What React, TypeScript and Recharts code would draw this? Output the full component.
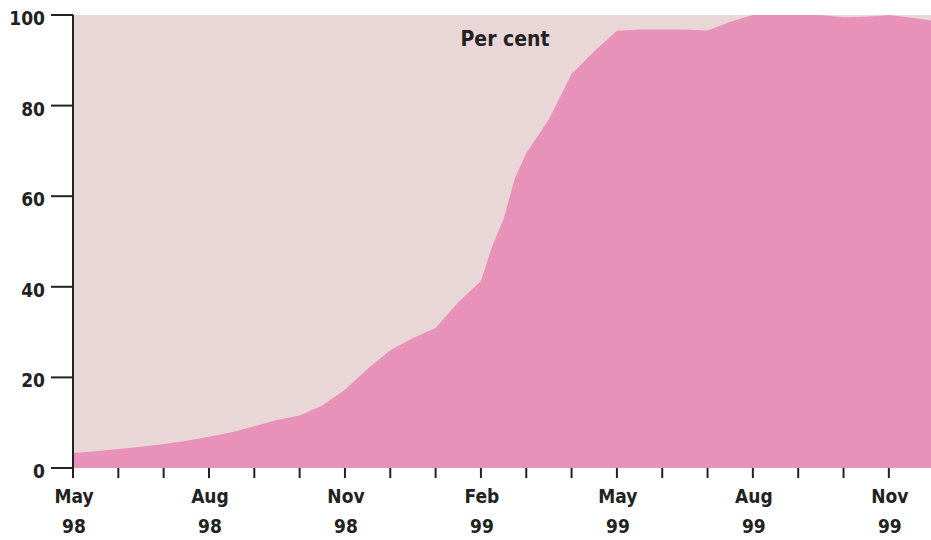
import { AreaChart, Area, XAxis, YAxis, ReferenceArea } from "recharts";

// months since May 1998
const MONTHS = [
  0, 0.5, 1, 1.5, 2, 2.5, 3, 3.5, 4, 4.5, 5, 5.5, 6, 6.5, 7, 7.5, 8, 8.5, 9, 9.25, 9.5, 9.75, 10,
  10.5, 11, 11.5, 12, 12.5, 13, 13.5, 14, 14.5, 15, 15.5, 16, 16.5, 17, 17.5, 18, 18.5, 18.93,
];
const SHARE = [
  3.3, 3.7, 4.2, 4.7, 5.3, 6.0, 6.9, 7.9, 9.2, 10.6, 11.6, 13.8, 17.3, 21.9, 26, 28.7, 30.9, 36.6,
  41.3, 49, 55, 64, 69.5, 77, 87, 92, 96.5, 96.8, 96.8, 96.8, 96.6, 98.5, 100, 100, 100, 100, 99.5,
  99.6, 100, 99.4, 98.8,
];
const X_TICKS = [0, 1, 2, 3, 4, 5, 6, 7, 8, 9, 10, 11, 12, 13, 14, 15, 16, 17, 18];
const X_LABELS: Record<number, [string, string]> = {
  0: ["May", "98"],
  3: ["Aug", "98"],
  6: ["Nov", "98"],
  9: ["Feb", "99"],
  12: ["May", "99"],
  15: ["Aug", "99"],
  18: ["Nov", "99"],
};
const Y_TICKS = [0, 20, 40, 60, 80, 100];

const data = MONTHS.map((m, i) => ({ m, share: SHARE[i] }));

const FONT = "'DejaVu Sans Condensed', sans-serif";

function XTick(props: any) {
  const { x, payload } = props;
  const lab = X_LABELS[payload.value];
  if (!lab) return null;
  return (
    <g>
      <text x={x + 1} y={503} textAnchor="middle" fontFamily={FONT} fontWeight="bold" fontSize={19} fill="#222">
        {lab[0]}
      </text>
      <text x={x + 1} y={533} textAnchor="middle" fontFamily={FONT} fontWeight="bold" fontSize={19} fill="#222">
        {lab[1]}
      </text>
    </g>
  );
}

function YTick(props: any) {
  const { x, y, payload } = props;
  return (
    <text x={x} y={y + 10} textAnchor="end" fontFamily={FONT} fontWeight="bold" fontSize={19} fill="#222">
      {payload.value}
    </text>
  );
}

export default function App() {
  return (
    <div style={{ position: "absolute", left: 0, top: 0, width: 931, height: 540, background: "#fff" }}>
      <AreaChart width={931} height={540} data={data} margin={{ top: 15, right: 0, bottom: 12, left: 0 }}>
        <XAxis
          dataKey="m"
          type="number"
          domain={[0, 18.93]}
          ticks={X_TICKS}
          interval={0}
          axisLine={false}
          tickLine={{ stroke: "#222", strokeWidth: 2 }}
          tickSize={10}
          height={60}
          tick={<XTick />}
        />
        <YAxis
          type="number"
          domain={[0, 100]}
          ticks={Y_TICKS}
          width={73}
          axisLine={{ stroke: "#222", strokeWidth: 2 }}
          tickLine={{ stroke: "#222", strokeWidth: 2 }}
          tickSize={22}
          tickMargin={6}
          tick={<YTick />}
        />
        <ReferenceArea x1={0} x2={18.93} y1={0} y2={100} fill="#e9d7d7" fillOpacity={1} stroke="none" />
        <Area
          type="linear"
          dataKey="share"
          stroke="none"
          fill="#e992b9"
          fillOpacity={1}
          isAnimationActive={false}
        />
      </AreaChart>
      <div
        style={{
          position: "absolute",
          left: 405,
          width: 200,
          top: 26,
          textAlign: "center",
          fontFamily: FONT,
          fontWeight: "bold",
          fontSize: 21,
          color: "#222",
          lineHeight: "26px",
        }}
      >
        Per cent
      </div>
    </div>
  );
}
